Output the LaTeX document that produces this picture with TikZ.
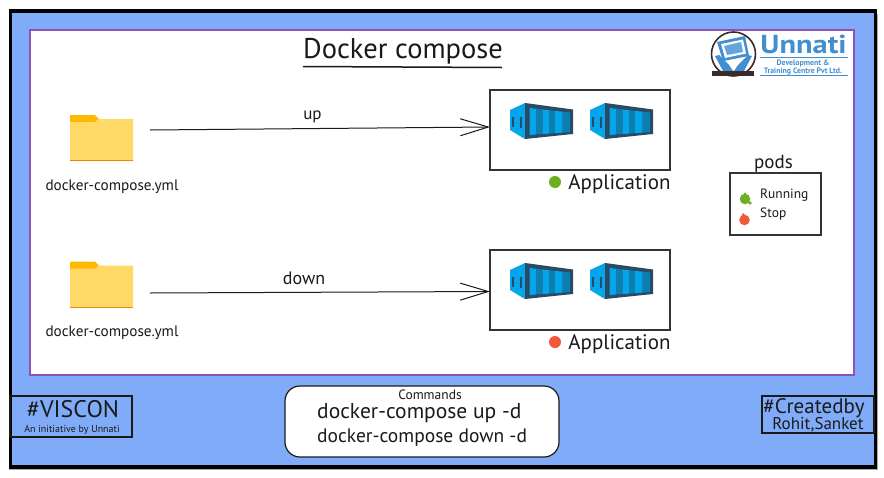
\documentclass[tikz,border=0pt]{standalone}
\usepackage{graphicx}
\usepackage{fontspec}
\setmainfont{PT Sans}
\usetikzlibrary{arrows.meta}
\definecolor{bgblue}{HTML}{7FABF8}
\definecolor{frame}{HTML}{8E52B8}
\definecolor{ink}{HTML}{1A1A1A}
\definecolor{boxline}{HTML}{333333}
\definecolor{logoblue}{HTML}{3F8FD2}
\definecolor{logodark}{HTML}{3A2A2A}
\definecolor{okgreen}{HTML}{6FAE1E}
\definecolor{stopred}{HTML}{F0593A}
\definecolor{cdark}{HTML}{2A4A66}
\definecolor{clight}{HTML}{05A5EA}
\definecolor{cmid}{HTML}{0A7FB0}
\definecolor{folderA}{HTML}{FFD966}
\definecolor{folderB}{HTML}{FFB900}
\definecolor{folderC}{HTML}{E8860C}
\tikzset{
  x=1pt,y=-1pt,
  hand/.style={inner sep=0pt,text=ink,font=\fontsize{#1}{#1}\selectfont},
  hand/.default=14,
  logotext/.style={inner sep=0pt,text=logoblue,font=\fontsize{#1}{#1}\selectfont\bfseries},
  panel/.style={draw=boxline,line width=2pt,fill=white,inner sep=0pt,outer sep=0pt,anchor=north west},
  tagbox/.style={draw=ink,line width=1.1pt,inner sep=0pt,outer sep=0pt,anchor=north west},
  flow/.style={draw=ink,line width=1pt,-{Straight Barb[length=28pt,width=17pt,line width=1pt]}},
  dot/.style={circle,inner sep=0pt,minimum size=#1},
  pics/folder/.style={code={
    \fill[folderB] (0,4) -- (0,-4) -- (25,-4) -- (29,0) -- (25,4) -- cycle;
    \fill[folderA] (0,3) -- (25,3) -- (29,0) -- (63,0) -- (63,42) -- (0,42) -- cycle;
    \fill[folderC] (0,41) rectangle (63,42.2);
  }},
  pics/container/.style={code={
    \fill[clight] (0,7) -- (15,0) -- (15,36) -- (0,27) -- cycle;
    \fill[cdark] (15,0) -- (63,6.5) -- (63,31) -- (15,36) -- cycle;
    \fill[cdark] (2,14) rectangle (4,24);
    \fill[cdark] (10,14) rectangle (12,24.5);
    \fill[clight] (19.5,5) -- (26,5.7) -- (26,31.5) -- (19.5,32) -- cycle;
    \fill[cmid]   (26,5.7) -- (32.5,6.4) -- (32.5,31) -- (26,31.5) -- cycle;
    \fill[clight] (32.5,6.4) -- (39,7.2) -- (39,30.6) -- (32.5,31) -- cycle;
    \fill[cmid]   (39,7.2) -- (45,7.8) -- (45,30.1) -- (39,30.6) -- cycle;
    \fill[clight] (45,7.8) -- (52.5,8.7) -- (52.5,29.6) -- (45,30.1) -- cycle;
    \fill[cmid]   (52.5,8.7) -- (60,9.5) -- (60,29) -- (52.5,29.6) -- cycle;
  }},
}
\begin{document}
\begin{tikzpicture}
\useasboundingbox (0,0) rectangle (884,477);
\fill[white] (0,0) rectangle (884,477);
% background frames
\fill[black!55,opacity=.6] (9,14) rectangle (878,470);
\draw[black,line width=3.5pt,fill=bgblue] (10.5,11) rectangle (875.5,467);
\draw[frame,line width=1.4pt,fill=white] (30,30) rectangle (854,375);
% title
\node[hand=28.5] (title) at (403,51) {Docker compose};
\coordinate (ulA) at (303,66.5);
\coordinate (ulB) at (502,67.5);
\draw[ink,line width=1.5pt] (ulA) -- (ulB);
% logo
\draw[logodark,line width=1.6pt,fill=white] (733.5,54) circle (22);
\fill[logoblue] (717,42) -- (745,36) -- (749,56) -- (723,61) -- cycle;
\fill[white] (721,44) -- (743,39.5) -- (746,53.5) -- (725,58) -- cycle;
\fill[logoblue!80] (724,46) -- (741,42) -- (743,52) -- (727,55) -- cycle;
\fill[logoblue] (715,56) -- (719,55) -- (729,65) -- (733,71) -- (723,71) -- cycle;
\fill[logoblue] (752,56) -- (748,55) -- (738,65) -- (734,71) -- (744,71) -- cycle;
\fill[logodark] (712,71) rectangle (754,75.5);
\node[logotext=26,anchor=base] (unnati) at (803.5,53.5) {\scalebox{1.17}[1]{Unnati}};
\coordinate (lgA) at (760,57); \coordinate (lgB) at (848,57);
\draw[logoblue,line width=.5pt] (lgA) -- (lgB);
\node[logotext=7.8] (dev) at (803,63.2) {Development \&};
\node[logotext=7.8] (train) at (803,71.3) {Training Centre Pvt Ltd.};
\coordinate (lgC) at (760,75.5); \coordinate (lgD) at (848,75.5);
\draw[logoblue,line width=.5pt] (lgC) -- (lgD);
% folders
\pic at (70,119) {folder};
\pic at (70,265.5) {folder};
\node[hand=15.2] (ymlA) at (112,187) {docker-compose.yml};
\node[hand=15.2] (ymlB) at (112,333) {docker-compose.yml};
% application boxes
\node[panel,minimum width=180pt,minimum height=80pt] (appA) at (490,90) {};
\node[panel,minimum width=180pt,minimum height=80pt] (appB) at (490,250) {};
\pic at (510,103) {container};
\pic at (590,103) {container};
\pic at (510,263) {container};
\pic at (590,263) {container};
\node[dot=12pt,fill=okgreen] (dotA) at (555,182) {};
\node[dot=12pt,fill=stopred] (dotB) at (555,342) {};
\node[hand=21] (appAt) at (619.5,184.5) {Application};
\node[hand=21] (appBt) at (619.5,344.5) {Application};
% connectors
\coordinate (srcA) at (150,130);
\coordinate (srcB) at (150,293);
\coordinate (tipA) at (490,127);
\coordinate (tipB) at (490,291.5);
\draw[flow] (srcA) -- (appA.west |- tipA);
\draw[flow] (srcB) -- (appB.west |- tipB);
\node[hand=17] (up) at (312.5,117) {up};
\node[hand=18] (down) at (304,278) {down};
% legend
\node[hand=19] (podsT) at (773.5,164) {pods};
\node[panel,line width=1.6pt,minimum width=91pt,minimum height=62pt] (pods) at (730,173) {};
\node[dot=10.5pt,fill=okgreen] (dotR) at (745,199) {};
\fill[okgreen] (750,203) circle (1.8);
\fill[okgreen] (745,193.8) circle (1.5);
\node[dot=10.5pt,fill=stopred] (dotS) at (744.5,220) {};
\fill[stopred] (741.5,216) -- (743,213) -- (746,216) -- cycle;
\node[hand=13.5,anchor=west] (run) at (760,195.5) {Running};
\node[hand=13.5,anchor=west] (stop) at (760,214.5) {Stop};
% commands
\node[draw=ink,line width=1.2pt,fill=white,rounded corners=15pt,minimum width=274pt,minimum height=71pt,inner sep=0pt,outer sep=0pt,anchor=north west] (cmd) at (285,386) {};
\node[hand=13.5] (cmdT) at (430,394.5) {Commands};
\node[hand=21.5,anchor=west] (cmdA) at (317,413) {docker-compose up -d};
\node[hand=19.5,anchor=west] (cmdB) at (317,437.5) {docker-compose down -d};
% tags
\node[tagbox,minimum width=122pt,minimum height=41pt] (vis) at (10,396) {};
\node[hand=24] (visT) at (73,409) {\#VISCON};
\node[hand=10] (visS) at (72,429.5) {An initiative by Unnati};
\node[tagbox,minimum width=112pt,minimum height=37pt] (made) at (762,396) {};
\node[hand=21] (madeT) at (814,408) {\#Createdby};
\node[hand=17] (madeS) at (818,425) {Rohit,Sanket};
\end{tikzpicture}
\end{document}
